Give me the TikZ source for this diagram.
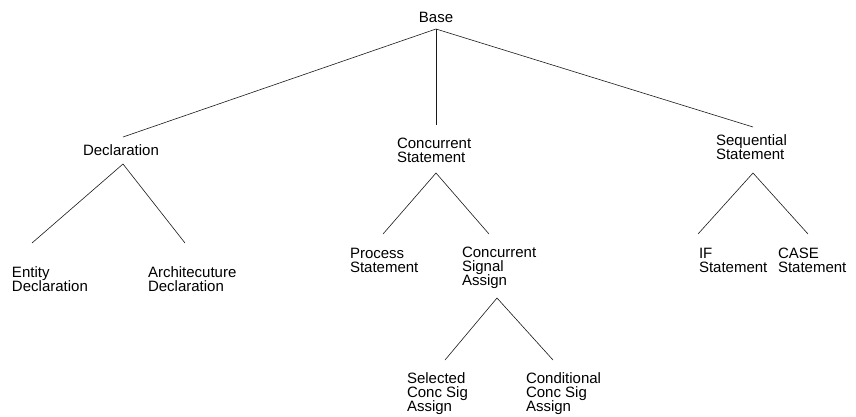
\documentclass[tikz,border=0pt]{standalone}
\usepackage{fontspec}
\setmainfont{Liberation Sans}
\begin{document}
\begin{tikzpicture}[x=1pt,y=-1pt,
  lbl/.style={font=\fontsize{15}{14}\selectfont, inner sep=0pt, outer sep=0pt, align=left, anchor=north west},
  edge/.style={line width=0.6pt, draw=black!90}]
\useasboundingbox (0,0) rectangle (856,416);
% nodes
\node[lbl, anchor=north] (base) at (436,12) {Base};
\node[lbl] (decl) at (83,145) {Declaration};
\node[lbl] (conc) at (397,138) {Concurrent\\Statement};
\node[lbl] (seq) at (716,135) {Sequential\\Statement};
\node[lbl] (entity) at (12,267) {Entity\\Declaration};
\node[lbl] (arch) at (148,267) {Architecuture\\Declaration};
\node[lbl] (proc) at (350,248) {Process\\Statement};
\node[lbl] (csa) at (462,247) {Concurrent\\Signal\\Assign};
\node[lbl] (ifs) at (699,248) {IF\\Statement};
\node[lbl] (cases) at (778,248) {CASE\\Statement};
\node[lbl] (sel) at (407,373) {Selected\\Conc Sig\\Assign};
\node[lbl] (cond) at (526,373) {Conditional\\Conc Sig\\Assign};
% connector end points
\coordinate (baseA) at (436,29);
\coordinate (declT) at (123,137);
\coordinate (concT) at (436,125);
\coordinate (seqT) at (753,127);
\coordinate (declA) at (123,164);
\coordinate (entityT) at (32,243);
\coordinate (archT) at (185,243);
\coordinate (concA) at (436,173);
\coordinate (procT) at (383,234);
\coordinate (csaT) at (489,234);
\coordinate (seqA) at (753,173);
\coordinate (ifsT) at (698,234);
\coordinate (casesT) at (808,234);
\coordinate (csaA) at (497,298);
\coordinate (selT) at (445,360);
\coordinate (condT) at (553,360);
% connectors
\draw[edge] (declT) -- (baseA) -- (seqT);
\draw[edge] (baseA) -- (concT);
\draw[edge] (entityT) -- (declA) -- (archT);
\draw[edge] (procT) -- (concA) -- (csaT);
\draw[edge] (ifsT) -- (seqA) -- (casesT);
\draw[edge] (selT) -- (csaA) -- (condT);
\end{tikzpicture}
\end{document}
